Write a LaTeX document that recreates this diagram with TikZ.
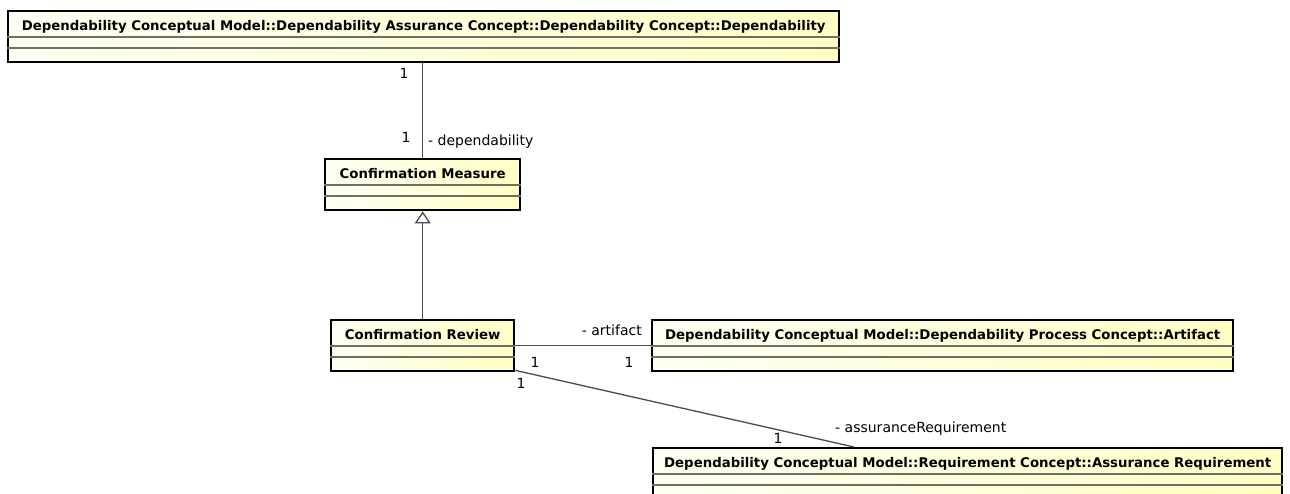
\documentclass[tikz,border=0pt]{standalone}
\usepackage{fontspec}
\setmainfont{DejaVu Sans}
\usetikzlibrary{arrows.meta}
\definecolor{umlpale}{RGB}{255,255,243}
\definecolor{umlyellow}{RGB}{255,255,196}
\definecolor{umlslot}{RGB}{110,110,100}
\definecolor{umlline}{RGB}{75,75,75}

\begin{document}
\begin{tikzpicture}[x=1pt, y=-1pt,
        cls/.style = {draw, line width=2.4pt, anchor=north west, inner sep=0pt,
                        text height=19pt, text depth=32pt, left color=umlpale,
                        right color=umlyellow, font=\fontsize{13.3}{16}\selectfont\bfseries},
        slot/.style = {umlslot, line width=1.4pt},
        assoc/.style = {umlline, line width=1.3pt},
        mult/.style = {inner sep=0pt, anchor=base, font=\fontsize{14}{16}\selectfont}]
        \useasboundingbox (0,0) rectangle (1290,494);

        \node[cls, minimum width=831pt] (dep) at (7,10) {Dependability Conceptual Model::Dependability Assurance Concept::Dependability Concept::Dependability};
        \node[cls, minimum width=195pt] (measure) at (324,158) {Confirmation Measure};
        \node[cls, minimum width=183pt] (review) at (330,319) {Confirmation Review};
        \node[cls, minimum width=581pt] (artifact) at (651,319) {Dependability Conceptual Model::Dependability Process Concept::Artifact};
        \node[cls, minimum width=629pt] (assurance) at (652,447) {Dependability Conceptual Model::Requirement Concept::Assurance Requirement};

        \foreach \c in {dep, measure, review, artifact, assurance}
            \draw[slot] ([yshift=-27pt]\c.north west) -- ([yshift=-27pt]\c.north east)
                        ([yshift=-38pt]\c.north west) -- ([yshift=-38pt]\c.north east);

        \draw[assoc] (dep.south -| measure.north) -- (measure.north);
        \draw[assoc, -{Triangle[open, width=16pt, length=12pt]}] (review.north) -- (measure.south);
        \draw[assoc] (review.east) -- (artifact.west);
        \draw[assoc] ([yshift=2pt]review.south east) -- ([xshift=202pt]assurance.north west);

        \node[mult] (m1) at (404,79) {1};
        \node[mult] (m2) at (406,143) {1};
        \node[mult, anchor=base west] (rdep) at (428,146) {- dependability};
        \node[mult, anchor=base east] (rart) at (642,335) {- artifact};
        \node[mult] (m3) at (535,367) {1};
        \node[mult] (m4) at (629,367) {1};
        \node[mult] (m5) at (521,388) {1};
        \node[mult] (m6) at (778,443) {1};
        \node[mult, anchor=base west] (rreq) at (835,432) {- assuranceRequirement};
\end{tikzpicture}
\end{document}
